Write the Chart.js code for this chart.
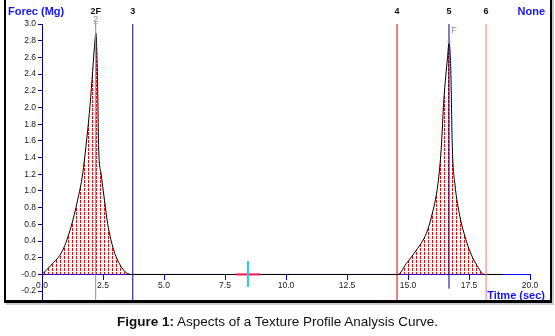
<!DOCTYPE html>
<html>
<head>
<meta charset="utf-8">
<script src="https://cdn.jsdelivr.net/npm/chart.js@4"></script>
<style>
body{margin:0;background:#fff;}
#wrap{position:relative;width:555px;height:336px;}
#frame{position:absolute;left:4px;top:-3px;width:544px;height:303px;border-left:2px solid #000;border-right:2px solid #000;border-bottom:3px solid #000;box-shadow:2px 2px 0 #ccc;}
#caption{position:absolute;left:0;top:314px;width:555px;text-align:center;font:13.5px "Liberation Sans",Arial,sans-serif;color:#111;}
</style>
</head>
<body>
<div id="wrap">
<div id="frame"></div>
<canvas id="tpaChart" width="555" height="336"></canvas>
<div id="caption"><b>Figure 1:</b> Aspects of a Texture Profile Analysis Curve.</div>
</div>
<script>
// force curve (time in sec, force in Mg)
var times = [0, 0.37, 0.85, 1.19, 1.46, 1.67, 1.8, 1.94, 2.05, 2.15, 2.21, 2.28, 2.32, 2.42, 2.56, 2.69, 2.9, 3.17, 3.51, 3.72,
             14.59, 14.93, 15.34, 15.75, 15.96, 16.23, 16.36, 16.47, 16.62, 16.68, 16.75, 16.82, 16.92, 17.13, 17.3, 17.52, 17.78, 18.15, 18.88];
var forces = [0, 0.11, 0.29, 0.57, 0.89, 1.21, 1.53, 1.93, 2.33, 2.73, 2.89, 2.25, 1.53, 1.21, 0.89, 0.61, 0.33, 0.13, 0.01, 0,
              0, 0.13, 0.29, 0.49, 0.69, 1.09, 1.5, 2.09, 2.6, 2.77, 2.49, 1.49, 1.09, 0.69, 0.49, 0.29, 0.13, 0, 0];

// cursor markers
var markerNames = ['2F', '3', '4', '5', '6'];
var markerTimes = [2.2, 3.72, 14.55, 16.68, 18.2];
var markerBottoms = [-0.33, -0.33, -0.33, -0.17, -0.33];
var markerColors = ['#8585dd', '#000080', '#d80000', '#000080', '#ff7070'];

// small crosshair near 8.4 s
var crossH = [7.95, 8.95];
var crossV = [-0.15, 0.16];
var crossT = 8.44;

var xTicks = [0, 2.5, 5, 7.5, 10, 12.5, 15, 17.5, 20];
var yTicks = [-0.2, 0, 0.2, 0.4, 0.6, 0.8, 1.0, 1.2, 1.4, 1.6, 1.8, 2.0, 2.2, 2.4, 2.6, 2.8, 3.0];

var yMin = -0.33;
var yMax = 3.0;

// red dashed hatching under the curve
var pat = document.createElement('canvas');
pat.width = 4;
pat.height = 4;
var pctx = pat.getContext('2d');
pctx.fillStyle = '#ff0000';
pctx.fillRect(0, 0, 1, 3);
var hatch = pctx.createPattern(pat, 'repeat');

// first datasets are painted last (on top)
var datasets = [];
datasets.push({
    data: crossV.map(function(v){ return {x: crossT, y: v}; }),
    borderColor: '#20d0e0',
    borderWidth: 2,
    pointRadius: 0,
    fill: false
});
datasets.push({
    data: crossH.map(function(t){ return {x: t, y: 0}; }),
    borderColor: '#ff1050',
    borderWidth: 2,
    pointRadius: 0,
    fill: false
});
for (var i = 0; i < markerTimes.length; i++) {
    datasets.push({
        data: [{x: markerTimes[i], y: markerBottoms[i]}, {x: markerTimes[i], y: yMax}],
        borderColor: markerColors[i],
        borderWidth: 1,
        pointRadius: 0,
        fill: false
    });
}
datasets.push({
    data: times.map(function(t, i){ return {x: t, y: forces[i]}; }),
    borderColor: '#000',
    borderWidth: 1,
    backgroundColor: hatch,
    pointRadius: 0,
    cubicInterpolationMode: 'monotone',
    fill: 'origin'
});

var labelsPlugin = {
    id: 'labels',
    afterDraw: function(chart) {
        var ctx = chart.ctx;
        var xs = chart.scales.x;
        ctx.save();
        ctx.textBaseline = 'middle';
        ctx.textAlign = 'center';
        ctx.font = 'bold 9px "Liberation Sans", Arial';
        ctx.fillStyle = '#111';
        for (var i = 0; i < markerNames.length; i++) {
            ctx.fillText(markerNames[i], xs.getPixelForValue(markerTimes[i]), 12);
        }
        ctx.font = '9px "Liberation Sans", Arial';
        ctx.fillStyle = '#888';
        ctx.fillText('2', xs.getPixelForValue(markerTimes[0]), 20);
        ctx.fillText('F', xs.getPixelForValue(markerTimes[3]) + 5, 31);
        ctx.fillText('+', xs.getPixelForValue(markerTimes[0]), 25);
        ctx.fillText('+', xs.getPixelForValue(markerTimes[3]), 43);

        ctx.font = 'bold 11px "Liberation Sans", Arial';
        ctx.fillStyle = '#1414ff';
        ctx.textAlign = 'left';
        ctx.fillText('Forec (Mg)', 8, 12);
        ctx.textAlign = 'right';
        ctx.fillText('None', 545, 12);
        ctx.fillText('Titme (sec)', 545, 296);
        ctx.restore();
    }
};

var chart = document.getElementById('tpaChart');
var tpaChart = new Chart(chart, {
    type: 'line',
    data: {datasets: datasets},
    options: {
        responsive: false,
        animation: false,
        events: [],
        layout: {padding: {left: 0, top: 24, right: 25, bottom: 34}},
        plugins: {legend: {display: false}, tooltip: {enabled: false}},
        scales: {
            x: {
                type: 'linear',
                min: 0,
                max: 20,
                position: {y: 0},
                afterBuildTicks: function(s){ s.ticks = xTicks.map(function(v){ return {value: v}; }); },
                ticks: {
                    padding: 1,
                    maxRotation: 0,
                    autoSkip: false,
                    color: '#222',
                    font: {family: '"Liberation Sans", Arial', size: 8.5},
                    callback: function(v){ return v.toFixed(1); }
                },
                grid: {drawOnChartArea: false, tickLength: 5, color: '#0000ff'},
                border: {color: '#0000ff', width: 1}
            },
            y: {
                type: 'linear',
                min: yMin,
                max: yMax,
                afterBuildTicks: function(s){ s.ticks = yTicks.map(function(v){ return {value: v}; }); },
                afterFit: function(s){ s.width = 42; },
                ticks: {
                    padding: 2,
                    autoSkip: false,
                    color: '#222',
                    font: {family: '"Liberation Sans", Arial', size: 8.5},
                    callback: function(v){ return v === 0 ? '-0.0' : v.toFixed(1); }
                },
                grid: {drawOnChartArea: false, tickLength: 4, color: '#000080'},
                border: {color: '#000080', width: 1}
            }
        }
    },
    plugins: [labelsPlugin]
});
</script>
</body>
</html>
